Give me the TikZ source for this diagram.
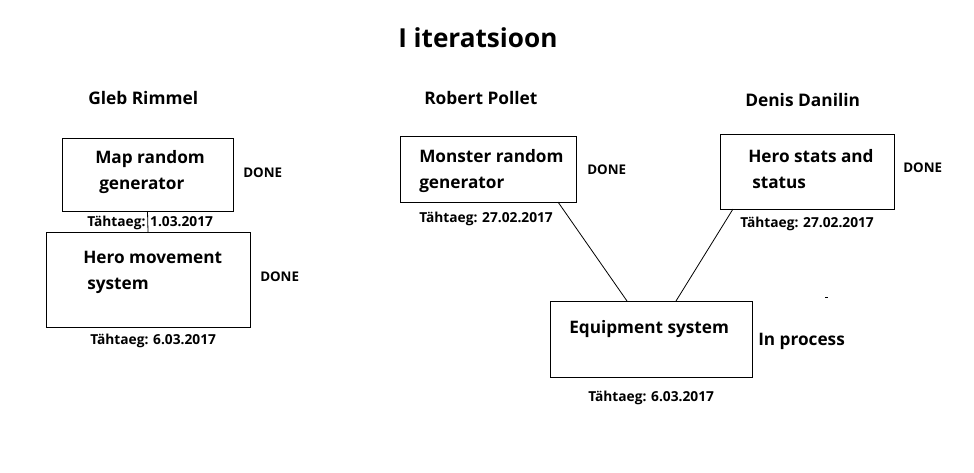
\documentclass[tikz,border=0pt]{standalone}
\usepackage{fontspec}
\setmainfont{Open Sans}
\usetikzlibrary{positioning}
\tikzset{
  px/.style={x=0.75pt,y=-0.75pt},
  task/.style={draw=black,line width=0.75pt,rectangle,inner sep=0,outer sep=0},
  link/.style={draw=black,line width=0.6pt},
  tasktext/.style={anchor=base west,inner sep=0,align=left,font=\bfseries\fontsize{12.9}{19.5}\selectfont},
  person/.style={anchor=base west,inner sep=0,font=\bfseries\fontsize{13}{15}\selectfont},
  state/.style={anchor=base west,inner sep=0,font=\bfseries\fontsize{10}{12}\selectfont},
  deadline/.style={anchor=base west,inner sep=0,font=\bfseries\fontsize{10.3}{12}\selectfont}
}
\begin{document}
\begin{tikzpicture}[px]
  \useasboundingbox (0,0) rectangle (974,472);
  % title
  \node[anchor=base west,inner sep=0,font=\bfseries\fontsize{19.6}{24}\selectfont] (title) at (398,47) {I iteratsioon};
  % people
  \node[person] (gleb) at (88,104) {Gleb Rimmel};
  \node[person] (robert) at (424,104) {Robert Pollet};
  \node[person] (denis) at (745,106) {Denis Danilin};

  % Gleb
  \node[task,minimum width=171*0.75pt,minimum height=73*0.75pt] (map) at (147.5,174.5) {};
  \node[tasktext] (map text) at (95,189) {Map random\\\hspace{3pt}generator};
  \node[state] (map done) at (243,177) {DONE};
  \node[deadline] (map date) at (87,226) {Tähtaeg: 1.03.2017};
  \node[task,minimum width=204*0.75pt,minimum height=95*0.75pt] (move) at (148,279.5) {};
  \node[tasktext] (move text) at (83,289) {Hero movement\\\hspace{3pt}system};
  \node[state] (move done) at (260,281) {DONE};
  \node[deadline] (move date) at (90,344) {Tähtaeg: 6.03.2017};
  \draw[link] (map.south) -- (move.north);

  % Robert
  \node[task,minimum width=176*0.75pt,minimum height=66*0.75pt] (monster) at (488,169) {};
  \node[tasktext] (monster text) at (419,188) {Monster random\\generator};
  \node[state] (monster done) at (587,174) {DONE};
  \node[deadline] (monster date) at (419,222) {Tähtaeg: 27.02.2017};
  \node[task,minimum width=202*0.75pt,minimum height=76*0.75pt] (equip) at (651,339) {};
  \node[tasktext] (equip text) at (569,333) {Equipment system};
  \node[tasktext] (equip state) at (758,345) {In process};
  \node[deadline] (equip date) at (588,401) {Tähtaeg: 6.03.2017};

  % Denis
  \node[task,minimum width=174*0.75pt,minimum height=75*0.75pt] (stats) at (807,171.5) {};
  \node[tasktext] (stats text) at (748,188) {Hero stats and\\\hspace{3pt}status};
  \node[state] (stats done) at (903,172) {DONE};
  \node[deadline] (stats date) at (740,227) {Tähtaeg: 27.02.2017};

  \draw[link] ([xshift=52.5pt]monster.south) -- ([xshift=-18pt]equip.north);
  \draw[link] ([xshift=-55.5pt]stats.south) -- ([xshift=18.75pt]equip.north);
  \draw[link] (825,297) -- (828,297);
\end{tikzpicture}
\end{document}
